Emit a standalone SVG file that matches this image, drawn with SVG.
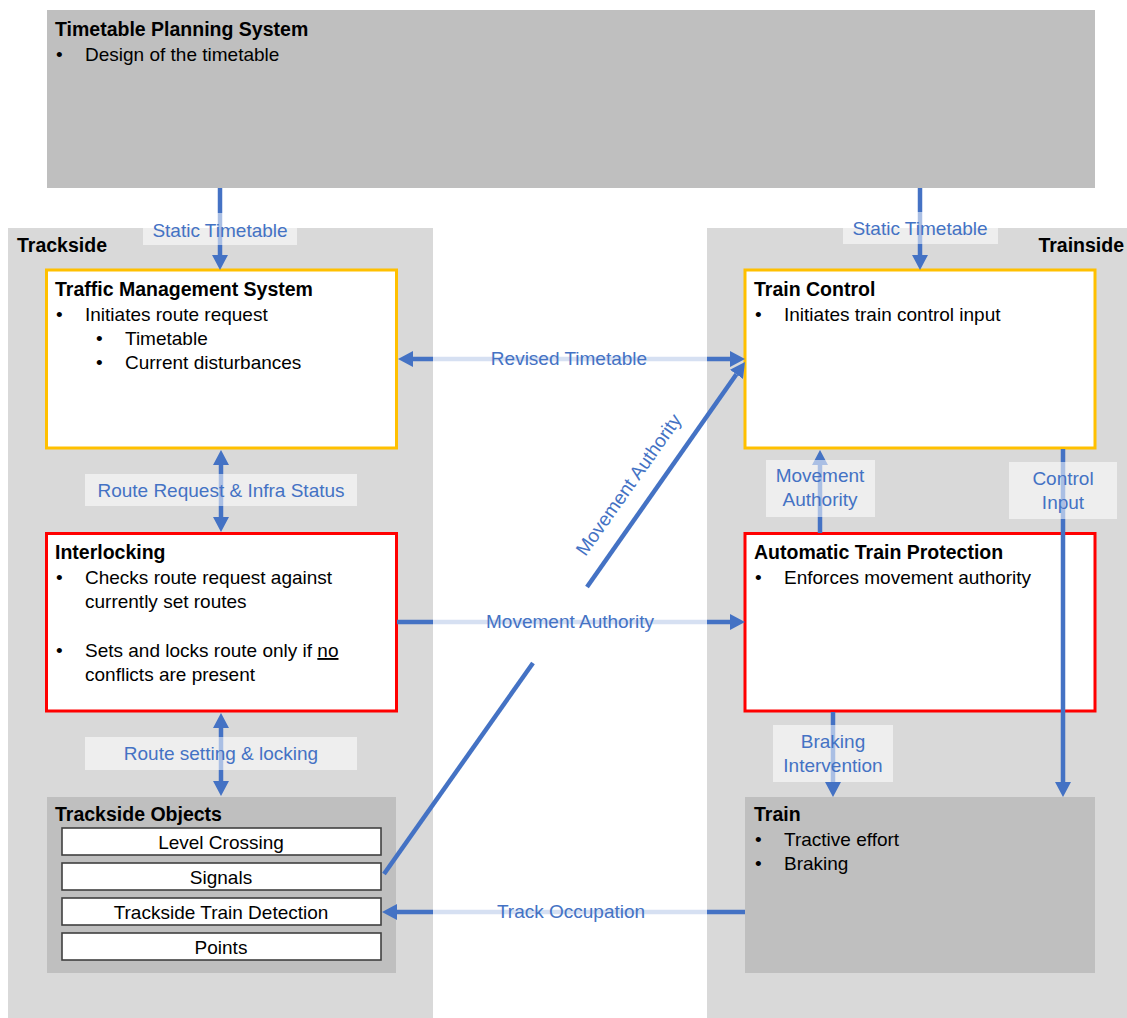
<svg xmlns="http://www.w3.org/2000/svg" width="1127" height="1018" viewBox="0 0 1127 1018">
  <style>
    text { font-family: "Liberation Sans", Arial, sans-serif; font-size: 19px; fill: #000; }
    .title { font-weight: bold; font-size: 19.5px; }
    .lbl { fill: #4472c4; text-anchor: middle; }
    .mid { text-anchor: middle; }
    .panel { fill: #d9d9d9; }
    .grey { fill: #bfbfbf; }
    .tms { fill: #fff; stroke: #ffc000; stroke-width: 3; }
    .ixl { fill: #fff; stroke: #ff0000; stroke-width: 3; }
    .item { fill: #fff; stroke: #404040; stroke-width: 1.6; }
    .wire { stroke: #4472c4; stroke-width: 4.5; fill: none; }
    .tag { fill: #fff; opacity: 0.55; }
    .band { fill: #fff; opacity: 0.78; }
  </style>
  <defs>
    <marker id="head" viewBox="0 0 15 16" markerWidth="15" markerHeight="16" markerUnits="userSpaceOnUse" refX="0" refY="8" orient="auto-start-reverse">
      <path d="M0,0 L15,8 L0,16 z" fill="#4472c4"/>
    </marker>
  </defs>

  <rect width="1127" height="1018" fill="#fff"/>

  <!-- side panels -->
  <g id="trackside">
    <rect class="panel" x="8" y="228" width="425" height="790"/>
    <text class="title" x="17" y="252">Trackside</text>
  </g>
  <g id="trainside">
    <rect class="panel" x="707" y="228" width="420" height="790"/>
    <text class="title" x="1124" y="252" text-anchor="end">Trainside</text>
  </g>

  <g id="timetable-planning">
    <rect class="grey" x="47" y="10" width="1048" height="178"/>
    <text class="title" x="55" y="36">Timetable Planning System</text>
    <text x="56" y="61">•</text>
    <text x="85" y="61">Design of the timetable</text>
  </g>

  <g id="traffic-management">
    <rect class="tms" x="46.5" y="270" width="350" height="178"/>
    <text class="title" x="55" y="296">Traffic Management System</text>
    <text x="56" y="321">•</text>
    <text x="85" y="321">Initiates route request</text>
    <text x="96" y="345">•</text>
    <text x="125" y="345">Timetable</text>
    <text x="96" y="369">•</text>
    <text x="125" y="369">Current disturbances</text>
  </g>

  <g id="interlocking">
    <rect class="ixl" x="46.5" y="533.5" width="350" height="177.5"/>
    <text class="title" x="55" y="559">Interlocking</text>
    <text x="56" y="584">•</text>
    <text x="85" y="584">Checks route request against</text>
    <text x="85" y="608">currently set routes</text>
    <text x="56" y="657">•</text>
    <text x="85" y="657">Sets and locks route only if <tspan text-decoration="underline">no</tspan></text>
    <text x="85" y="681">conflicts are present</text>
  </g>

  <g id="trackside-objects">
    <rect class="grey" x="47" y="797" width="349" height="176"/>
    <text class="title" x="55" y="821">Trackside Objects</text>
    <rect class="item" x="62" y="828" width="319" height="27"/>
    <text class="mid" x="221" y="849">Level Crossing</text>
    <rect class="item" x="62" y="863" width="319" height="27"/>
    <text class="mid" x="221" y="884">Signals</text>
    <rect class="item" x="62" y="898" width="319" height="27"/>
    <text class="mid" x="221" y="919">Trackside Train Detection</text>
    <rect class="item" x="62" y="933" width="319" height="27"/>
    <text class="mid" x="221" y="954">Points</text>
  </g>

  <g id="train-control">
    <rect class="tms" x="745" y="270" width="350" height="178"/>
    <text class="title" x="754" y="296">Train Control</text>
    <text x="755" y="321">•</text>
    <text x="784" y="321">Initiates train control input</text>
  </g>

  <g id="atp">
    <rect class="ixl" x="745" y="533.5" width="350" height="177.5"/>
    <text class="title" x="754" y="559">Automatic Train Protection</text>
    <text x="755" y="584">•</text>
    <text x="784" y="584">Enforces movement authority</text>
  </g>

  <g id="train">
    <rect class="grey" x="745" y="797" width="350" height="176"/>
    <text class="title" x="754" y="821">Train</text>
    <text x="755" y="846">•</text>
    <text x="784" y="846">Tractive effort</text>
    <text x="755" y="870">•</text>
    <text x="784" y="870">Braking</text>
  </g>

  <g id="connectors">
    <!-- static timetable feeds -->
    <line class="wire" x1="220" y1="188" x2="220" y2="255" marker-end="url(#head)"/>
    <line class="wire" x1="920" y1="188" x2="920" y2="255" marker-end="url(#head)"/>
    <!-- TMS <-> interlocking -->
    <line class="wire" x1="221" y1="465" x2="221" y2="517" marker-start="url(#head)" marker-end="url(#head)"/>
    <!-- interlocking <-> trackside objects -->
    <line class="wire" x1="221" y1="728" x2="221" y2="781" marker-start="url(#head)" marker-end="url(#head)"/>
    <!-- revised timetable -->
    <line class="wire" x1="413" y1="359" x2="730" y2="359" marker-start="url(#head)" marker-end="url(#head)"/>
    <!-- interlocking -> ATP -->
    <line class="wire" x1="397" y1="622" x2="730" y2="622" marker-end="url(#head)"/>
    <!-- train -> train detection -->
    <line class="wire" x1="745" y1="912" x2="397" y2="912" marker-end="url(#head)"/>
    <!-- ATP -> train control -->
    <line class="wire" x1="820" y1="533" x2="820" y2="465" marker-end="url(#head)"/>
    <!-- train control -> train -->
    <line class="wire" x1="1063" y1="449" x2="1063" y2="782" marker-end="url(#head)"/>
    <!-- ATP -> train -->
    <line class="wire" x1="833" y1="712" x2="833" y2="782" marker-end="url(#head)"/>
    <!-- signals -> train control (diagonal, broken behind the label) -->
    <line class="wire" x1="384" y1="874" x2="533" y2="663"/>
    <line class="wire" x1="587" y1="587" x2="736.4" y2="374.3" marker-end="url(#head)"/>

    <!-- label backgrounds -->
    <rect class="tag" x="143" y="213" width="154" height="32"/>
    <rect class="tag" x="843" y="212" width="155" height="32"/>
    <rect class="tag" x="85" y="474" width="272" height="32"/>
    <rect class="tag" x="85" y="737" width="272" height="33"/>
    <rect class="tag" x="766" y="460" width="109" height="57"/>
    <rect class="tag" x="1009" y="462" width="108" height="57"/>
    <rect class="tag" x="773" y="725" width="120" height="57"/>
    <rect class="band" x="433" y="346" width="274" height="28"/>
    <rect class="band" x="433" y="609" width="274" height="28"/>
    <rect class="band" x="433" y="899" width="274" height="28"/>

    <!-- labels -->
    <text class="lbl" x="220" y="237">Static Timetable</text>
    <text class="lbl" x="920" y="235">Static Timetable</text>
    <text class="lbl" x="221" y="497">Route Request &amp; Infra Status</text>
    <text class="lbl" x="221" y="760">Route setting &amp; locking</text>
    <text class="lbl" x="569" y="365">Revised Timetable</text>
    <text class="lbl" x="570" y="628">Movement Authority</text>
    <text class="lbl" x="571" y="918">Track Occupation</text>
    <text class="lbl" x="820" y="482">Movement</text>
    <text class="lbl" x="820" y="506">Authority</text>
    <text class="lbl" x="1063" y="485">Control</text>
    <text class="lbl" x="1063" y="509">Input</text>
    <text class="lbl" x="833" y="748">Braking</text>
    <text class="lbl" x="833" y="772">Intervention</text>
    <text class="lbl" transform="translate(629,485) rotate(-54.8)" x="0" y="6">Movement Authority</text>
  </g>
</svg>
